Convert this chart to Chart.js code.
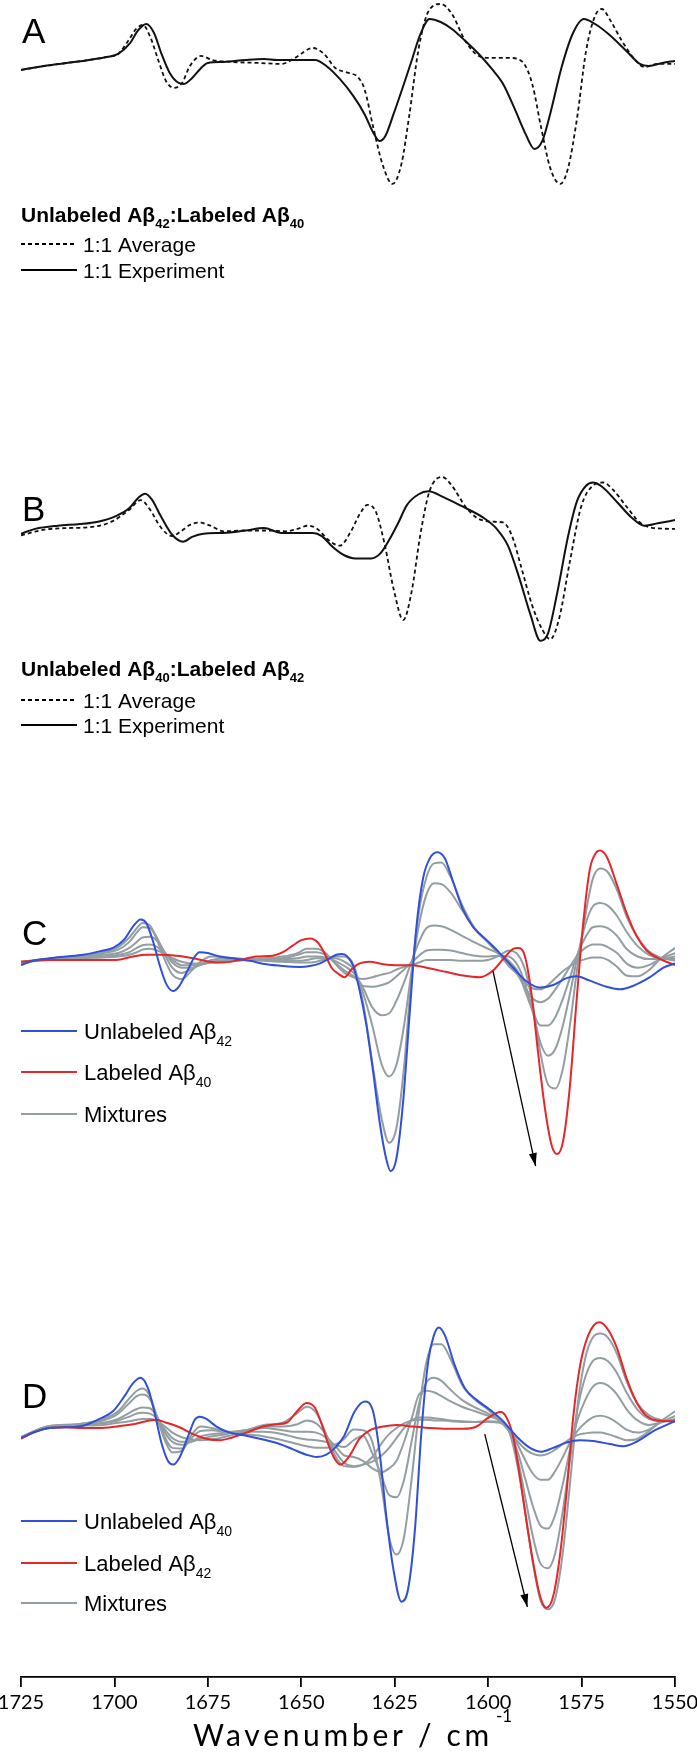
<!DOCTYPE html>
<html>
<head>
<meta charset="utf-8">
<script src="https://cdn.jsdelivr.net/npm/chart.js@4.4.1/dist/chart.umd.min.js"></script>
<style>
html,body{margin:0;padding:0;background:#fff;}
canvas{display:block;}
</style>
</head>
<body>
<canvas id="chart" width="697" height="1758" style="width:697px;height:1758px"></canvas>
<script>
// ---------------- DATA (wavenumber [cm-1], relative absorbance, arbitrary units) ----------------
const tickValues = [1725, 1700, 1675, 1650, 1625, 1600, 1575, 1550];

// Panel A : Unlabeled Ab42 : Labeled Ab40
const aAverage = [[1725,-0.09],[1718.8,-0.05],[1712.8,-0.02],[1706.8,0.01],[1702,0.04],[1699,0.07],[1696,0.22],[1694.2,0.32],[1692.4,0.36],[1690.3,0.23],[1688.2,0.00],[1686.2,-0.20],[1684,-0.27],[1681.9,-0.22],[1679.8,-0.05],[1676.8,0.05],[1673.8,0.01],[1668.4,-0.01],[1661.3,-0.02],[1655.3,-0.03],[1651.7,0.03],[1646.9,0.13],[1643.9,0.07],[1640.9,-0.07],[1637.3,-0.12],[1634.9,-0.16],[1633.1,-0.28],[1630.7,-0.67],[1628.3,-1.03],[1625.6,-1.23],[1623.2,-1.03],[1621.2,-0.57],[1618.7,0.10],[1616.3,0.47],[1612.7,0.57],[1609.7,0.47],[1606.1,0.20],[1602.5,0.05],[1599,0.03],[1594.2,0.03],[1590.8,-0.01],[1588.2,-0.23],[1585.8,-0.67],[1583.4,-1.07],[1580.7,-1.23],[1578.6,-1.07],[1576.2,-0.57],[1573.8,0.10],[1571.4,0.45],[1569.6,0.52],[1567.2,0.40],[1564.2,0.20],[1560.4,0.00],[1558.2,-0.06],[1554.6,-0.03],[1550,-0.03]];
const aExperiment = [[1725,-0.09],[1718.8,-0.05],[1712.8,-0.02],[1706.8,0.01],[1702,0.04],[1699,0.07],[1696,0.17],[1693.6,0.31],[1691.5,0.37],[1689.4,0.28],[1687.4,0.07],[1685.2,-0.12],[1682.8,-0.22],[1681.4,-0.23],[1679.2,-0.17],[1676.8,-0.07],[1675,-0.02],[1670.8,-0.01],[1664.9,0.01],[1660,0.02],[1656.5,0.01],[1651.7,0.01],[1646.3,0.01],[1643.3,-0.05],[1639.7,-0.18],[1636.1,-0.35],[1633.1,-0.53],[1630.7,-0.72],[1629.1,-0.80],[1627.5,-0.75],[1625.3,-0.53],[1622.9,-0.27],[1620.5,0.00],[1618.1,0.27],[1615.7,0.42],[1612.7,0.39],[1609.7,0.32],[1606.1,0.20],[1602.5,0.07],[1599,-0.08],[1596,-0.23],[1593,-0.47],[1590,-0.73],[1587.6,-0.88],[1585.5,-0.80],[1583.4,-0.53],[1580.4,-0.07],[1577.4,0.27],[1574.4,0.42],[1571.4,0.37],[1567.8,0.27],[1563,0.10],[1559.4,-0.03],[1557,-0.05],[1553.4,-0.02],[1550,0.00]];

// Panel B : Unlabeled Ab40 : Labeled Ab42
const bAverage = [[1725,-0.02],[1718.8,0.05],[1712.8,0.07],[1706.8,0.08],[1700.8,0.15],[1696,0.30],[1693,0.42],[1690.6,0.31],[1687.6,0.08],[1684.6,-0.03],[1682.2,0.03],[1679.8,0.11],[1677.4,0.14],[1674.3,0.10],[1670.8,0.03],[1664.9,0.04],[1658.9,0.04],[1654.1,0.03],[1651.1,0.06],[1648.1,0.10],[1645.7,0.06],[1642.7,-0.08],[1639.7,-0.15],[1636.7,0.03],[1634.3,0.25],[1632.3,0.36],[1630.1,0.28],[1627.7,-0.13],[1625.3,-0.69],[1622.7,-1.08],[1620.5,-0.73],[1618.1,0.00],[1615.7,0.53],[1612.3,0.71],[1609.7,0.60],[1606.1,0.34],[1603.1,0.20],[1599,0.15],[1596,0.14],[1593.6,-0.03],[1591.2,-0.41],[1588.2,-0.90],[1585.5,-1.20],[1583.4,-1.32],[1581,-1.06],[1578.1,-0.34],[1575.1,0.34],[1572,0.60],[1569.3,0.64],[1566.6,0.55],[1563,0.34],[1559.4,0.14],[1555.8,0.07],[1550,0.06]];
const bExperiment = [[1725,0.00],[1721.2,0.06],[1715.2,0.10],[1709.2,0.12],[1704.4,0.15],[1699.6,0.22],[1696,0.32],[1693.6,0.45],[1691.8,0.50],[1690,0.43],[1687.6,0.22],[1684.6,-0.01],[1681.6,-0.10],[1679.2,-0.04],[1676.2,0.00],[1670.8,0.01],[1664.9,0.04],[1660,0.07],[1655.3,0.01],[1646.9,0.01],[1644.5,-0.03],[1641.5,-0.17],[1638.5,-0.27],[1635.5,-0.31],[1631.3,-0.31],[1628.9,-0.25],[1626.5,-0.08],[1624.1,0.13],[1621.7,0.36],[1618.7,0.49],[1616,0.53],[1612.1,0.46],[1607.3,0.35],[1601.3,0.20],[1597.7,0.06],[1594.7,-0.15],[1591.7,-0.55],[1588.7,-1.01],[1586,-1.34],[1584,-1.25],[1581.6,-0.76],[1578.6,-0.03],[1576.2,0.41],[1573.8,0.60],[1572,0.64],[1569.6,0.59],[1565.4,0.39],[1561.8,0.21],[1558.2,0.10],[1554.6,0.13],[1550,0.17]];

// Panel C : Unlabeled Ab42 (blue), Labeled Ab40 (red)
const cUnlabeled42 = [[1725,-0.02],[1721.8,0.03],[1717.4,0.06],[1712.9,0.08],[1708.4,0.10],[1704,0.14],[1700,0.19],[1697.3,0.28],[1695,0.43],[1693,0.51],[1691.5,0.47],[1689.7,0.26],[1687.9,-0.02],[1686.1,-0.24],[1684.3,-0.32],[1682.6,-0.26],[1680.3,-0.07],[1678.5,0.08],[1677.2,0.13],[1675,0.12],[1671.8,0.08],[1668.3,0.06],[1663.8,0.03],[1659.3,-0.01],[1654.9,-0.03],[1650.4,-0.04],[1647.7,-0.03],[1645,0.00],[1642.8,0.05],[1640.6,0.10],[1639.2,0.11],[1637.9,0.09],[1636.1,-0.03],[1634.4,-0.31],[1632.6,-0.71],[1630.8,-1.25],[1629,-1.85],[1627.2,-2.28],[1626.1,-2.41],[1624.5,-2.25],[1622.7,-1.58],[1621,-0.58],[1619.2,0.42],[1617.4,0.99],[1615.6,1.22],[1613.6,1.29],[1611.6,1.22],[1609.4,0.95],[1606.7,0.62],[1604,0.42],[1600.4,0.27],[1596.9,0.12],[1593.3,-0.05],[1589.7,-0.21],[1586.1,-0.28],[1582.6,-0.25],[1579,-0.17],[1576.3,-0.15],[1572.8,-0.20],[1568.3,-0.27],[1564.7,-0.30],[1561.2,-0.26],[1556.7,-0.16],[1553.1,-0.05],[1550,0.00]];
const cLabeled40 = [[1725,0.02],[1717.4,0.04],[1708.4,0.04],[1704,0.04],[1699.5,0.04],[1695,0.08],[1691.5,0.10],[1687.9,0.10],[1683.4,0.09],[1679,0.06],[1674.5,0.02],[1671,0.01],[1666.5,0.04],[1662,0.08],[1657.6,0.09],[1654.9,0.13],[1652.2,0.21],[1650,0.27],[1647.6,0.29],[1645.5,0.24],[1643.7,0.11],[1641.9,-0.05],[1640.1,-0.12],[1638.4,-0.16],[1636.6,-0.07],[1634.4,0.00],[1631.7,0.02],[1628.1,-0.01],[1624.5,-0.02],[1620.1,-0.02],[1616.5,-0.05],[1611.1,-0.10],[1606.7,-0.14],[1602.2,-0.16],[1598.6,-0.08],[1596,0.05],[1593.3,0.17],[1592,0.18],[1590.2,0.09],[1588.4,-0.35],[1586.6,-1.05],[1584.8,-1.68],[1583,-2.11],[1581.5,-2.21],[1579.9,-2.05],[1578.1,-1.41],[1576.3,-0.41],[1574.5,0.49],[1572.8,1.09],[1571,1.29],[1570.1,1.31],[1568.3,1.24],[1565.6,0.92],[1563,0.59],[1560.3,0.32],[1557.6,0.15],[1554.9,0.07],[1550,-0.02]];

// Panel D : Unlabeled Ab40 (blue), Labeled Ab42 (red)
const dUnlabeled40 = [[1725,-0.05],[1721.8,0.02],[1717.4,0.08],[1712.9,0.09],[1708.4,0.11],[1704,0.20],[1700.4,0.30],[1697.3,0.50],[1695,0.67],[1693,0.74],[1691,0.60],[1689.2,0.27],[1687.5,-0.10],[1685.7,-0.35],[1684.3,-0.40],[1682.6,-0.31],[1680.3,-0.03],[1678.5,0.19],[1677.2,0.23],[1675.4,0.20],[1672.7,0.10],[1669.1,0.02],[1664.7,-0.02],[1660.2,-0.07],[1655.8,-0.13],[1652.2,-0.20],[1648.6,-0.27],[1645.9,-0.30],[1643.3,-0.27],[1640.6,-0.16],[1638.5,-0.02],[1635.7,0.30],[1633,0.43],[1630.8,0.30],[1629,-0.26],[1627.2,-1.10],[1625.4,-1.76],[1623.2,-2.20],[1621.4,-2.03],[1619.6,-1.26],[1617.8,0.07],[1616,0.97],[1614.5,1.30],[1613.2,1.40],[1611.6,1.30],[1608.9,0.90],[1606.2,0.60],[1603.1,0.45],[1599.5,0.32],[1596,0.17],[1592.4,-0.03],[1588.8,-0.18],[1585.7,-0.23],[1582.6,-0.18],[1579,-0.11],[1575.5,-0.08],[1571.9,-0.09],[1567.4,-0.13],[1563.8,-0.16],[1560.3,-0.10],[1555.8,0.04],[1550,0.17]];
const dLabeled42 = [[1725,-0.06],[1721.8,0.02],[1717.4,0.08],[1712.9,0.09],[1708.4,0.08],[1704,0.08],[1699.5,0.10],[1695,0.13],[1691.5,0.17],[1688.8,0.19],[1686.1,0.15],[1682.6,0.09],[1679,0.00],[1675.4,-0.06],[1671.8,-0.08],[1668.3,-0.04],[1664.7,0.02],[1660.2,0.10],[1656.6,0.13],[1653.9,0.15],[1651.3,0.29],[1648.6,0.41],[1646.4,0.35],[1644.6,0.14],[1642.8,-0.13],[1641,-0.33],[1639.5,-0.40],[1637.3,-0.30],[1634.4,-0.06],[1631.7,0.05],[1628.1,0.10],[1624.5,0.12],[1620.1,0.10],[1615.6,0.08],[1611.1,0.07],[1606.7,0.07],[1603.1,0.10],[1600.4,0.20],[1597.7,0.28],[1596.6,0.29],[1595.1,0.22],[1593.3,-0.03],[1591.5,-0.56],[1589.7,-1.16],[1587.9,-1.70],[1586.1,-2.13],[1584.4,-2.28],[1582.6,-2.13],[1580.8,-1.60],[1579,-0.76],[1577.2,0.24],[1575.4,0.90],[1573.2,1.30],[1570.3,1.47],[1568.3,1.40],[1565.6,1.14],[1563,0.74],[1560.3,0.42],[1557.6,0.24],[1554.9,0.18],[1550,0.17]];

// Mixture spectra (panels C and D) sampled on a shared wavenumber list
const mixWavenumbers = [1725,1718,1710,1703,1699,1696,1694,1692.5,1690.5,1688.5,1686.5,1684.5,1682,1679.5,1677,1674,1670,1665,1660,1655,1651,1648.5,1646,1643.5,1641,1638.5,1636,1633.5,1631,1628.5,1626.5,1624.5,1622.5,1620.5,1618.5,1616.5,1614.5,1612.5,1610,1607,1603.5,1600,1597,1594.5,1592,1590,1588,1586,1584,1582,1580,1578,1576,1574,1572,1570,1568,1565.5,1563,1560,1557,1554,1550];
const cMix1 = [0.00,0.05,0.08,0.13,0.19,0.30,0.41,0.47,0.44,0.26, 0.04,-0.13,-0.18,-0.09,0.02,0.08,0.07,0.05,0.03,0.02, 0.01,0.01,0.02,0.05,0.08,0.08,-0.02,-0.45,-1.15,-1.80, -2.08,-1.90,-1.20,-0.15,0.60,1.00,1.16,1.17,1.00,0.68, 0.40,0.24,0.10,-0.03,-0.13,-0.23,-0.29,-0.30,-0.25,-0.17, -0.09,-0.03,0.02,0.05,0.07,0.07,0.04,-0.04,-0.14,-0.15, -0.08,0.05,0.18];
const cMix2 = [0.01,0.05,0.08,0.12,0.16,0.25,0.36,0.42,0.41,0.29, 0.10,-0.05,-0.11,-0.07,-0.01,0.04,0.06,0.05,0.04,0.03, 0.03,0.04,0.06,0.06,0.06,0.02,-0.07,-0.34,-0.72,-1.17, -1.31,-1.17,-0.72,-0.09,0.45,0.80,0.93,0.92,0.82,0.62, 0.40,0.25,0.12,-0.01,-0.14,-0.29,-0.41,-0.45,-0.41,-0.30, -0.17,-0.03,0.10,0.18,0.22,0.22,0.19,0.12,0.00,-0.05, -0.02,0.05,0.12];
const cMix3 = [0.01,0.05,0.07,0.10,0.12,0.18,0.25,0.30,0.31,0.26, 0.13,0.01,-0.05,-0.05,-0.02,0.02,0.04,0.04,0.04,0.05, 0.06,0.08,0.08,0.07,0.03,-0.03,-0.11,-0.28,-0.51,-0.60, -0.58,-0.43,-0.22,0.02,0.25,0.41,0.44,0.43,0.39,0.32, 0.24,0.17,0.11,0.03,-0.10,-0.33,-0.56,-0.72,-0.72,-0.62, -0.41,-0.15,0.12,0.30,0.42,0.43,0.41,0.32,0.17,0.08, 0.05,0.05,0.08];
const cMix4 = [0.02,0.05,0.06,0.08,0.10,0.13,0.18,0.21,0.22,0.19, 0.12,0.04,-0.02,-0.02,-0.01,0.01,0.02,0.04,0.05,0.06, 0.10,0.13,0.13,0.10,0.01,-0.08,-0.15,-0.26,-0.27,-0.25, -0.22,-0.15,-0.07,0.01,0.09,0.15,0.16,0.16,0.15,0.12, 0.09,0.08,0.09,0.08,-0.03,-0.25,-0.57,-0.92,-1.07,-0.99, -0.72,-0.33,0.10,0.45,0.66,0.70,0.67,0.55,0.37,0.20, 0.10,0.06,0.05];
const cMix5 = [0.02,0.04,0.06,0.07,0.08,0.10,0.13,0.16,0.17,0.15, 0.11,0.06,0.02,0.00,0.00,0.01,0.02,0.04,0.06,0.08, 0.12,0.17,0.17,0.12,0.00,-0.11,-0.16,-0.18,-0.16,-0.13, -0.11,-0.07,-0.04,-0.02,0.01,0.04,0.04,0.04,0.04,0.03, 0.03,0.04,0.09,0.15,0.10,-0.09,-0.50,-1.04,-1.40,-1.45, -1.22,-0.68,0.00,0.55,0.98,1.10,1.06,0.85,0.55,0.30, 0.14,0.07,0.03];
const dMix1 = [-0.04,0.10,0.13,0.20,0.30,0.47,0.57,0.60,0.50,0.20, -0.08,-0.24,-0.22,-0.02,0.10,0.08,0.03,0.00,-0.03,-0.08, -0.13,-0.16,-0.18,-0.18,-0.14,-0.06,0.06,0.05,-0.10,-0.70, -1.35,-1.58,-1.35,-0.60,0.30,0.95,1.18,1.18,0.98,0.65, 0.45,0.32,0.18,0.05,-0.10,-0.20,-0.26,-0.28,-0.26,-0.20, -0.13,-0.06,-0.01,0.01,0.02,0.02,0.00,-0.04,-0.08,-0.06, 0.04,0.16,0.30];
const dMix2 = [-0.04,0.10,0.13,0.18,0.27,0.41,0.50,0.52,0.46,0.22, -0.04,-0.18,-0.19,-0.06,0.04,0.05,0.03,0.03,0.03,0.00, -0.05,-0.07,-0.08,-0.10,-0.14,-0.17,-0.08,-0.02,-0.25,-0.55, -0.80,-0.83,-0.60,-0.10,0.40,0.68,0.74,0.70,0.58,0.45, 0.35,0.27,0.18,0.05,-0.15,-0.35,-0.52,-0.60,-0.60,-0.48, -0.30,-0.10,0.05,0.15,0.22,0.24,0.22,0.15,0.06,0.02, 0.06,0.15,0.24];
const dMix3 = [-0.04,0.09,0.12,0.15,0.20,0.28,0.33,0.35,0.34,0.22, 0.02,-0.10,-0.14,-0.10,-0.03,0.00,0.02,0.05,0.08,0.05, 0.03,0.03,0.02,-0.04,-0.15,-0.28,-0.30,-0.35,-0.45,-0.50, -0.45,-0.35,-0.10,0.20,0.52,0.57,0.55,0.50,0.43,0.36, 0.30,0.24,0.18,0.05,-0.25,-0.60,-0.95,-1.20,-1.24,-1.05, -0.65,-0.18,0.20,0.45,0.62,0.67,0.64,0.52,0.33,0.18, 0.12,0.15,0.20];
const dMix4 = [-0.05,0.09,0.12,0.14,0.18,0.23,0.27,0.28,0.27,0.20, 0.06,-0.05,-0.10,-0.10,-0.06,-0.03,0.00,0.05,0.10,0.10, 0.13,0.18,0.14,0.00,-0.22,-0.38,-0.42,-0.40,-0.36,-0.28, -0.18,-0.05,0.08,0.18,0.22,0.22,0.21,0.20,0.18,0.17, 0.16,0.16,0.15,0.05,-0.35,-0.85,-1.35,-1.70,-1.76,-1.55, -1.00,-0.30,0.35,0.75,0.96,1.00,0.96,0.80,0.55,0.32, 0.20,0.17,0.18];
const dMix5 = [-0.05,0.08,0.11,0.12,0.15,0.17,0.19,0.20,0.20,0.17, 0.10,0.02,-0.04,-0.07,-0.08,-0.07,-0.03,0.04,0.12,0.15, 0.28,0.36,0.28,0.02,-0.28,-0.42,-0.43,-0.40,-0.30,-0.12, 0.00,0.08,0.14,0.18,0.19,0.19,0.18,0.18,0.17,0.16, 0.16,0.17,0.16,0.05,-0.45,-1.05,-1.70,-2.18,-2.30,-2.15, -1.55,-0.60,0.40,1.00,1.27,1.32,1.27,1.05,0.70,0.40, 0.25,0.19,0.17];

// Trend arrows (start, end) in panel data coordinates
const cArrow = [[1598.7,-0.09],[1587.3,-2.35]];
const dArrow = [[1600.9,0.00],[1589.5,-2.27]];

// ---------------- LAYOUT / STYLE ----------------
const W = 697, H = 1758;
const PLOT_BOTTOM = 1677;                                   // pixel of x axis line
const panelZeroPx = {yA: 60, yB: 533, yC: 963, yD: 1434};    // pixel row of value 0
const panelPxPerUnit = {yA: 100, yB: 80, yC: 86.3, yD: 76.2};
const BLUE = '#3050d8', RED = '#e5262b', GRAY = '#939ea2', BLACK = '#111';
const SANS = '"Liberation Sans", Arial, Helvetica, sans-serif';
const AXISFONT = 'Lato, "Open Sans", sans-serif';

function panelAxis(id) {
  const ppu = panelPxPerUnit[id];
  const max = panelZeroPx[id] / ppu;
  return {display: false, min: max - PLOT_BOTTOM / ppu, max: max};
}
const toXY = pairs => pairs.map(p => ({x: p[0], y: p[1]}));
const onGrid = (xs, ys) => xs.map((x, i) => ({x: x, y: ys[i]}));

function curve(data, axis, color, extra) {
  return Object.assign({
    data: data, yAxisID: axis, borderColor: color, backgroundColor: color,
    borderWidth: 2, pointRadius: 0, fill: false, cubicInterpolationMode: 'monotone'
  }, extra || {});
}

const datasets = [
  curve(toXY(aAverage), 'yA', BLACK, {borderDash: [4, 3], borderWidth: 1.8, order: 1}),
  curve(toXY(aExperiment), 'yA', BLACK, {order: 0}),
  curve(toXY(bAverage), 'yB', BLACK, {borderDash: [4, 3], borderWidth: 1.8, order: 1}),
  curve(toXY(bExperiment), 'yB', BLACK, {order: 0}),
];
[cMix1, cMix2, cMix3, cMix4, cMix5].forEach(m => datasets.push(curve(onGrid(mixWavenumbers, m), 'yC', GRAY, {order: 3})));
datasets.push(curve(toXY(cUnlabeled42), 'yC', BLUE, {order: 2}));
datasets.push(curve(toXY(cLabeled40), 'yC', RED, {order: 2}));
[dMix1, dMix2, dMix3, dMix4, dMix5].forEach(m => datasets.push(curve(onGrid(mixWavenumbers, m), 'yD', GRAY, {order: 3})));
datasets.push(curve(toXY(dUnlabeled40), 'yD', BLUE, {order: 2}));
datasets.push(curve(toXY(dLabeled42), 'yD', RED, {order: 2}));
datasets.push(curve(toXY(cArrow), 'yC', '#000', {borderWidth: 1.3, cubicInterpolationMode: 'default', tension: 0, order: 0, isArrow: true}));
datasets.push(curve(toXY(dArrow), 'yD', '#000', {borderWidth: 1.3, cubicInterpolationMode: 'default', tension: 0, order: 0, isArrow: true}));

// texts (baselines in px)
const panelLetters = [['A', 43], ['B', 521], ['C', 945], ['D', 1408]];
const legends = [
  {title: [['Unlabeled Aβ', 0], ['42', 1], [':Labeled Aβ', 0], ['40', 1]], titleY: 222, textX: 83, size: 21,
   rows: [{y: 244, color: '#000', dash: true, text: [['1:1 Average', 0]]},
          {y: 270, color: '#000', dash: false, text: [['1:1 Experiment', 0]]}]},
  {title: [['Unlabeled Aβ', 0], ['40', 1], [':Labeled Aβ', 0], ['42', 1]], titleY: 676, textX: 83, size: 21,
   rows: [{y: 700, color: '#000', dash: true, text: [['1:1 Average', 0]]},
          {y: 725, color: '#000', dash: false, text: [['1:1 Experiment', 0]]}]},
  {rows: [{y: 1031, color: BLUE, text: [['Unlabeled Aβ', 0], ['42', 1]]},
          {y: 1072, color: RED, text: [['Labeled Aβ', 0], ['40', 1]]},
          {y: 1114, color: GRAY, text: [['Mixtures', 0]]}], textX: 84, size: 22},
  {rows: [{y: 1521, color: BLUE, text: [['Unlabeled Aβ', 0], ['40', 1]]},
          {y: 1563, color: RED, text: [['Labeled Aβ', 0], ['42', 1]]},
          {y: 1603, color: GRAY, text: [['Mixtures', 0]]}], textX: 84, size: 22},
];

function drawRich(ctx, x, y, parts, size, weight) {
  ctx.textBaseline = 'alphabetic';
  ctx.textAlign = 'left';
  for (const [t, sub] of parts) {
    if (sub) {
      ctx.font = `${weight} ${Math.round(size * 0.62)}px ${SANS}`;
      ctx.fillText(t, x, y + size * 0.3);
    } else {
      ctx.font = `${weight} ${size}px ${SANS}`;
      ctx.fillText(t, x, y);
    }
    x += ctx.measureText(t).width;
  }
}

const annotationPlugin = {
  id: 'annotations',
  afterDatasetsDraw(chart) {
    const ctx = chart.ctx;
    chart.data.datasets.forEach((ds, i) => {
      if (!ds.isArrow) return;
      const pts = chart.getDatasetMeta(i).data;
      const p0 = pts[0], p1 = pts[pts.length - 1];
      const ang = Math.atan2(p1.y - p0.y, p1.x - p0.x);
      const L = 13, Wd = 4;
      ctx.save();
      ctx.fillStyle = '#000';
      ctx.beginPath();
      ctx.moveTo(p1.x, p1.y);
      ctx.lineTo(p1.x - L * Math.cos(ang) + Wd * Math.sin(ang), p1.y - L * Math.sin(ang) - Wd * Math.cos(ang));
      ctx.lineTo(p1.x - L * Math.cos(ang) - Wd * Math.sin(ang), p1.y - L * Math.sin(ang) + Wd * Math.cos(ang));
      ctx.closePath();
      ctx.fill();
      ctx.restore();
    });
  },
  afterDraw(chart) {
    const ctx = chart.ctx;
    ctx.save();
    ctx.fillStyle = '#000';
    ctx.font = `400 35px ${SANS}`;
    ctx.textBaseline = 'alphabetic';
    ctx.textAlign = 'left';
    panelLetters.forEach(([t, y]) => ctx.fillText(t, 22, y));
    legends.forEach(lg => {
      if (lg.title) drawRich(ctx, 21, lg.titleY, lg.title, lg.size, 700);
      lg.rows.forEach(r => {
        ctx.save();
        ctx.strokeStyle = r.color;
        ctx.lineWidth = r.dash ? 1.8 : 2;
        if (r.dash) ctx.setLineDash([4, 3]);
        ctx.beginPath();
        ctx.moveTo(21, r.y);
        ctx.lineTo(77, r.y);
        ctx.stroke();
        ctx.restore();
        ctx.fillStyle = '#000';
        drawRich(ctx, lg.textX, r.y + 8, r.text, lg.size, 400);
      });
    });
    // x axis title with superscript
    ctx.font = `400 30px ${AXISFONT}`;
    try { ctx.letterSpacing = '3.7px'; } catch (e) {}
    const title = 'Wavenumber / cm';
    ctx.fillText(title, 193, 1746);
    const tw = ctx.measureText(title).width;
    ctx.font = `400 17px ${AXISFONT}`;
    try { ctx.letterSpacing = '0px'; } catch (e) {}
    ctx.fillText('-1', 193 + tw + 3, 1722);
    ctx.restore();
  }
};

const chart = new Chart(document.getElementById('chart'), {
  type: 'line',
  data: {datasets: datasets},
  plugins: [annotationPlugin],
  options: {
    responsive: false,
    animation: false,
    devicePixelRatio: 1,
    layout: {padding: {left: 21, right: 22, top: 0, bottom: 0}},
    plugins: {legend: {display: false}, tooltip: {enabled: false}, title: {display: false}},
    scales: {
      x: {
        type: 'linear', position: 'bottom', reverse: true, min: 1550, max: 1725,
        afterBuildTicks: scale => { scale.ticks = tickValues.map(v => ({value: v})); },
        afterFit: scale => { scale.height = H - PLOT_BOTTOM; scale.paddingLeft = 0; scale.paddingRight = 0; },
        ticks: {autoSkip: false, maxRotation: 0, color: '#000', padding: 4,
                font: {family: AXISFONT, size: 20}, callback: v => String(v)},
        grid: {drawOnChartArea: false, drawTicks: true, tickLength: 10, color: '#000', lineWidth: 1.8},
        border: {display: true, color: '#000', width: 1.8},
        title: {display: false}
      },
      yA: panelAxis('yA'),
      yB: panelAxis('yB'),
      yC: panelAxis('yC'),
      yD: panelAxis('yD')
    }
  }
});
if (document.fonts && document.fonts.ready) document.fonts.ready.then(() => chart.update());
</script>
</body>
</html>
